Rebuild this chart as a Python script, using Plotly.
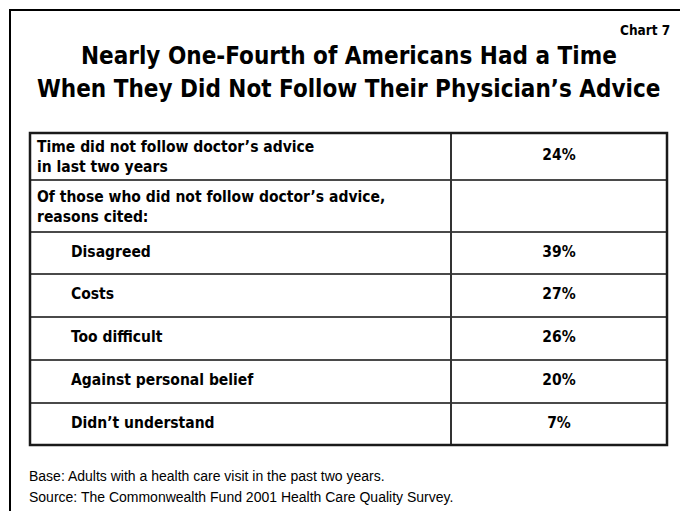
import plotly.graph_objects as go

# ---- table content ----
row_labels = [
    "Time did not follow doctor\u2019s advice<br>in last two years",
    "Of those who did not follow doctor\u2019s advice,<br>reasons cited:",
    "Disagreed",
    "Costs",
    "Too difficult",
    "Against personal belief",
    "Didn\u2019t understand",
]
row_values = [24, None, 39, 27, 26, 20, 7]
row_indented = [False, False, True, True, True, True, True]

title_lines = [
    "Nearly One-Fourth of Americans Had a Time",
    "When They Did Not Follow Their Physician\u2019s Advice",
]
chart_tag = "Chart 7"
footnotes = [
    "Base: Adults with a health care visit in the past two years.",
    "Source: The Commonwealth Fund 2001 Health Care Quality Survey.",
]

# ---- layout constants (pixel-like data units) ----
W, H = 680, 511
row_heights = [47, 52, 42, 43, 43, 43, 42]
table_top = 133
table_left, table_right = 30, 667
col_split = 451
label_pad = 7
indent_pad = 41

HEAVY = "DejaVu Sans Condensed, DejaVu Sans, sans-serif"
PLAIN = "Liberation Sans, Arial, sans-serif"

# row boundaries
bounds = [table_top]
for h in row_heights:
    bounds.append(bounds[-1] + h)
centers = [(a + b) / 2 for a, b in zip(bounds[:-1], bounds[1:])]
# two-line labels sit slightly lower in their cells
label_y = [c + (2 if "<br>" in t else 0) for c, t in zip(centers, row_labels)]

fig = go.Figure()

# row labels
label_x = [table_left + (indent_pad if ind else label_pad) for ind in row_indented]
fig.add_trace(go.Scatter(
    x=label_x, y=label_y, mode="text", text=row_labels,
    textposition="middle right",
    textfont=dict(family=HEAVY, size=15.5, color="black", weight="bold"),
    hoverinfo="skip", showlegend=False,
))

# percentage column
val_x, val_y, val_t = [], [], []
for v, c in zip(row_values, centers):
    if v is not None:
        val_x.append((col_split + table_right) / 2)
        val_y.append(c)
        val_t.append(f"{v}%")
fig.add_trace(go.Scatter(
    x=val_x, y=val_y, mode="text", text=val_t,
    textposition="middle center",
    textfont=dict(family=HEAVY, size=15.5, color="black", weight="bold"),
    hoverinfo="skip", showlegend=False,
))

shapes = []
# outer frame (runs off the right and bottom edges)
shapes.append(dict(type="rect", xref="x", yref="y", x0=10, y0=10, x1=W + 20, y1=H + 20,
                   line=dict(color="black", width=2)))
# inner row rules
for b in bounds[1:-1]:
    shapes.append(dict(type="line", xref="x", yref="y", x0=table_left, x1=table_right,
                       y0=b, y1=b, line=dict(color="#4a4a4a", width=2)))
# column divider
shapes.append(dict(type="line", xref="x", yref="y", x0=col_split, x1=col_split,
                   y0=bounds[0], y1=bounds[-1], line=dict(color="#333333", width=2)))
# table border
shapes.append(dict(type="rect", xref="x", yref="y", x0=table_left, x1=table_right,
                   y0=bounds[0], y1=bounds[-1], line=dict(color="#1a1a1a", width=2.5)))

annotations = [
    dict(x=672, y=30, xref="x", yref="y", text=chart_tag, showarrow=False,
         xanchor="right", yanchor="middle",
         font=dict(family=HEAVY, size=13.5, color="black", weight="bold")),
]
for i, line in enumerate(title_lines):
    annotations.append(dict(x=(table_left + table_right) / 2, y=56 + 33 * i, xref="x", yref="y",
                            text=line, showarrow=False, xanchor="center", yanchor="middle",
                            font=dict(family=HEAVY, size=24, color="black", weight="bold")))
for i, line in enumerate(footnotes):
    annotations.append(dict(x=27, y=476 + 21 * i, xref="x", yref="y", text=line,
                            showarrow=False, xanchor="left", yanchor="middle",
                            font=dict(family=PLAIN, size=14, color="black")))

fig.update_layout(
    width=W, height=H,
    margin=dict(l=0, r=0, t=0, b=0),
    paper_bgcolor="white", plot_bgcolor="white",
    xaxis=dict(range=[0, W], visible=False, fixedrange=True),
    yaxis=dict(range=[H, 0], visible=False, fixedrange=True),
    shapes=shapes, annotations=annotations,
)

fig.write_html("out.html")
